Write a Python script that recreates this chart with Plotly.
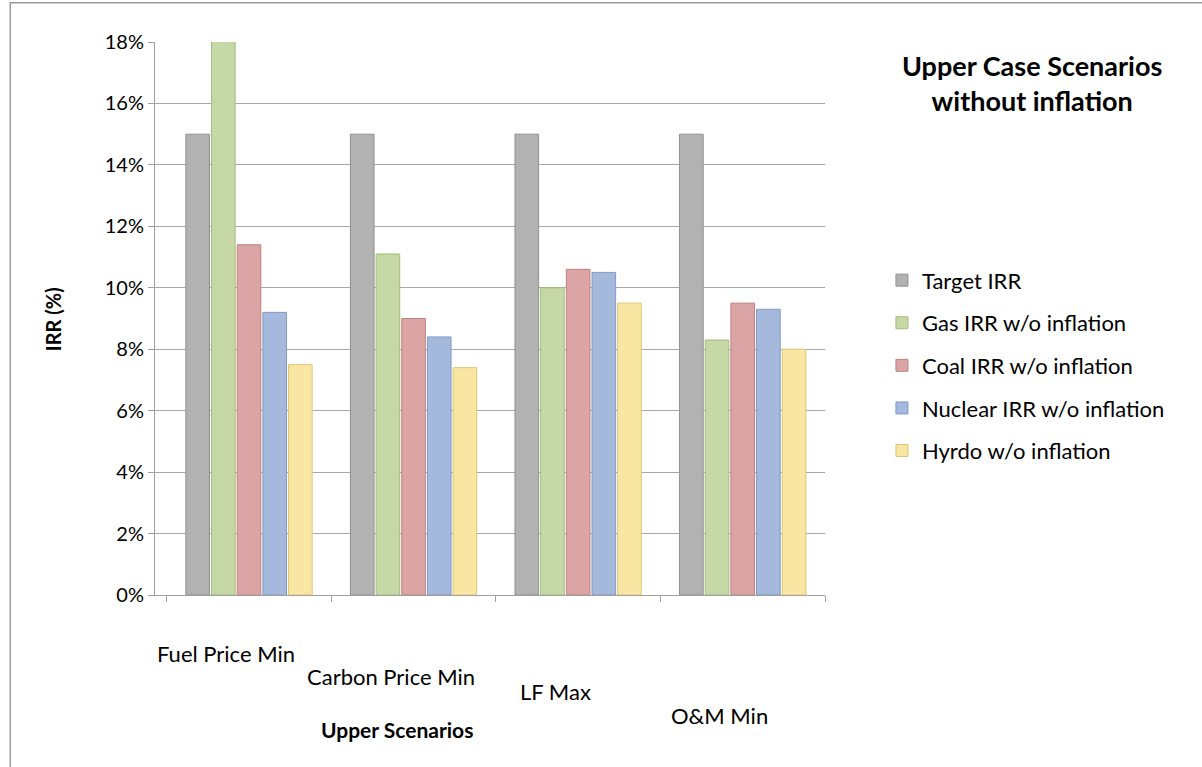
import plotly.graph_objects as go

categories = ["Fuel Price Min", "Carbon Price Min", "LF Max", "O&M Min"]
series_names = ["Target IRR", "Gas IRR w/o inflation", "Coal IRR w/o inflation",
                "Nuclear IRR w/o inflation", "Hyrdo w/o inflation"]
target = [0.150, 0.150, 0.150, 0.150]
gas = [0.181, 0.111, 0.100, 0.083]
coal = [0.114, 0.090, 0.106, 0.095]
nuclear = [0.092, 0.084, 0.105, 0.093]
hydro = [0.075, 0.074, 0.095, 0.080]
y_ticks = [0, 0.02, 0.04, 0.06, 0.08, 0.10, 0.12, 0.14, 0.16, 0.18]

values = [target, gas, coal, nuclear, hydro]
fills = ["#b2b2b2", "#c5d8a6", "#dca5a5", "#a5b9dc", "#f9e6a2"]
edges = ["#8f8f8f", "#a3bd7c", "#c08080", "#8199c4", "#dcc678"]

FONT = "Lato, 'Open Sans', sans-serif"

fig = go.Figure()
for name, vals, fc, ec in zip(series_names, values, fills, edges):
    fig.add_trace(go.Bar(
        name=name, x=categories, y=vals, legendgroup=name,
        marker=dict(color=fc, line=dict(color=ec, width=1)),
        hovertemplate="%{x}<br>%{y:.1%}<extra>" + name + "</extra>",
    ))

# staggered category labels (layout positions, paper units)
label_rows = [-0.105, -0.148, -0.175, -0.217]
annotations = []
for cat, ly in zip(categories, label_rows):
    annotations.append(dict(
        x=cat, xref="x", y=ly, yref="paper",
        text=cat, showarrow=False, xshift=-23, yanchor="middle",
        font=dict(family=FONT, size=22, color="#000000")))

annotations += [
    dict(x=0.361, y=-0.244, xref="paper", yref="paper", showarrow=False,
         text="<b>Upper Scenarios</b>", yanchor="middle",
         font=dict(family=FONT, size=21, color="#000000")),
    dict(x=-0.152, y=0.499, xref="paper", yref="paper", showarrow=False,
         text="<b>IRR (%)</b>", textangle=-90, xanchor="center", yanchor="middle",
         font=dict(family=FONT, size=20, color="#000000")),
    dict(x=1.309, y=0.926, xref="paper", yref="paper", showarrow=False,
         text="<b>Upper Case Scenarios<br>without inflation</b>",
         xanchor="center", yanchor="middle", align="center",
         font=dict(family=FONT, size=27, color="#000000")),
]

fig.update_layout(
    width=1202, height=767,
    margin=dict(l=155, r=377, t=42, b=172),
    paper_bgcolor="white", plot_bgcolor="white",
    barmode="group", bargap=0.22, bargroupgap=0.08,
    font=dict(family=FONT, size=20, color="#000000"),
    showlegend=True,
    legend=dict(x=1.085, y=0.607, xanchor="left", yanchor="top",
                traceorder="grouped", tracegroupgap=11,
                font=dict(family=FONT, size=22, color="#000000"),
                bgcolor="rgba(0,0,0,0)"),
    annotations=annotations,
    shapes=[dict(type="rect", xref="paper", yref="paper",
                 x0=-0.216, x1=1.58, y0=-0.33, y1=1.071,
                 line=dict(color="#9a9a9a", width=1.5), layer="below")],
)
fig.update_xaxes(showticklabels=False, showline=True, linecolor="#a0a0a0",
                 ticks="outside", tickson="boundaries", ticklen=6,
                 tickcolor="#a0a0a0", showgrid=False)
fig.update_yaxes(range=[0, 0.18], tickvals=y_ticks, tickformat=".0%",
                 showgrid=True, gridcolor="#a8a8a8", gridwidth=1,
                 showline=True, linecolor="#a0a0a0", ticks="outside",
                 ticklen=6, tickcolor="#a0a0a0", zeroline=False,
                 tickfont=dict(family=FONT, size=20, color="#000000"))

fig.write_html("out.html",
               config={"displayModeBar": False},
               post_script="document.body.style.margin='0';document.body.style.overflow='hidden';")
